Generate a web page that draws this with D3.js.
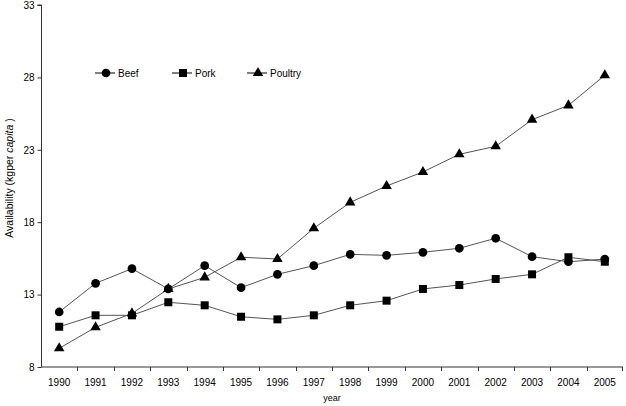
<!DOCTYPE html>
<html>
<head>
<meta charset="utf-8">
<script src="https://cdn.jsdelivr.net/npm/d3@7"></script>
<style>
    html, body { margin: 0; padding: 0; background: #fff; }
    svg { display: block; font-family: "Liberation Sans", Arial, sans-serif; }
</style>
</head>
<body>
<div id="chart"></div>
<script>
const years = [1990, 1991, 1992, 1993, 1994, 1995, 1996, 1997, 1998, 1999, 2000, 2001, 2002, 2003, 2004, 2005];
const beef = [11.8, 13.78, 14.79, 13.39, 15.0, 13.48, 14.4, 15.0, 15.78, 15.71, 15.92, 16.2, 16.89, 15.62, 15.27, 15.45];
const pork = [10.78, 11.57, 11.57, 12.47, 12.26, 11.47, 11.29, 11.57, 12.26, 12.58, 13.39, 13.66, 14.08, 14.4, 15.58, 15.27];
const poultry = [9.29, 10.74, 11.7, 13.39, 14.19, 15.58, 15.46, 17.58, 19.37, 20.5, 21.47, 22.69, 23.24, 25.08, 26.07, 28.15];
const yTicks = [8, 13, 18, 23, 28, 33];

const seriesList = [
    { name: "Beef", values: beef, symbol: d3.symbolCircle, size: 60 },
    { name: "Pork", values: pork, symbol: d3.symbolSquare, size: 64 },
    { name: "Poultry", values: poultry, symbol: d3.symbolTriangle, size: 48 },
];

const width = 626;
const height = 406;
const margin = { top: 5, right: 3, bottom: 39, left: 41 };

const svg = d3.select("#chart")
    .append("svg")
    .attr("width", width)
    .attr("height", height);

const x = d3.scaleBand()
    .domain(years)
    .range([margin.left, width - margin.right]);

const y = d3.scaleLinear()
    .domain([8, 33])
    .range([height - margin.bottom, margin.top]);

const axisColor = "#333";

// x axis with ticks between categories
const xAxis = svg.append("g")
    .attr("transform", `translate(0,${height - margin.bottom})`);

xAxis.append("line")
    .attr("x1", margin.left).attr("x2", width - margin.right)
    .attr("stroke", axisColor);

xAxis.selectAll("line.tick")
    .data(years.slice(1))
    .join("line")
    .attr("class", "tick")
    .attr("x1", (d) => Math.round(x(d)) + 0.5)
    .attr("x2", (d) => Math.round(x(d)) + 0.5)
    .attr("y1", 0).attr("y2", 4)
    .attr("stroke", axisColor);

xAxis.append("line")
    .attr("x1", width - margin.right - 0.5).attr("x2", width - margin.right - 0.5)
    .attr("y1", 0).attr("y2", 4)
    .attr("stroke", axisColor);

xAxis.selectAll("text")
    .data(years)
    .join("text")
    .attr("x", (d) => x(d) + x.bandwidth() / 2)
    .attr("y", 19)
    .attr("text-anchor", "middle")
    .attr("font-size", 10)
    .attr("fill", "#000")
    .text((d) => d);

// y axis
const yAxis = svg.append("g")
    .attr("transform", `translate(${margin.left + 0.5},0)`)
    .call(d3.axisLeft(y).tickValues(yTicks).tickSize(4).tickPadding(3))
    .call((g) => g.selectAll(".domain, line").attr("stroke", axisColor))
    .call((g) => g.selectAll("text")
        .attr("font-size", 10)
        .attr("fill", "#000")
        .attr("font-family", "Liberation Sans, Arial, sans-serif"));
yAxis.select(".domain").attr("d", `M-4,${y(33)}H0V${y(8)}`);

// axis titles
const yTitle = svg.append("text")
    .attr("transform", `translate(13,${(margin.top + height - margin.bottom) / 2 - 8}) rotate(-90)`)
    .attr("text-anchor", "middle")
    .attr("font-size", 10.5)
    .attr("fill", "#000");
yTitle.append("tspan").text("Availability (kgper ");
yTitle.append("tspan").attr("font-style", "italic").text("capita");
yTitle.append("tspan").text(" )");

svg.append("text")
    .attr("x", (margin.left + width - margin.right) / 2)
    .attr("y", 401)
    .attr("text-anchor", "middle")
    .attr("font-size", 9)
    .attr("fill", "#000")
    .text("year");

// series lines and markers
const line = d3.line()
    .x((d, i) => x(years[i]) + x.bandwidth() / 2)
    .y((d) => y(d));

seriesList.forEach((s) => {
    svg.append("path")
        .datum(s.values)
        .attr("fill", "none")
        .attr("stroke", "#555")
        .attr("stroke-width", 1)
        .attr("d", line);

    svg.append("g")
        .selectAll("path")
        .data(s.values)
        .join("path")
        .attr("transform", (d, i) => `translate(${x(years[i]) + x.bandwidth() / 2},${y(d)})`)
        .attr("d", d3.symbol(s.symbol, s.size))
        .attr("fill", "#000");
});

// legend
const legendX = [95, 172, 247];
const legendY = 73;
const legend = svg.append("g")
    .selectAll("g")
    .data(seriesList)
    .join("g")
    .attr("transform", (d, i) => `translate(${legendX[i]},${legendY})`);

legend.append("line")
    .attr("x1", 0).attr("x2", 20)
    .attr("stroke", "#000");

legend.append("path")
    .attr("transform", "translate(11,0)")
    .attr("d", (d) => d3.symbol(d.symbol, d.size)())
    .attr("fill", "#000");

legend.append("text")
    .attr("x", 23)
    .attr("y", 3.5)
    .attr("font-size", 10)
    .attr("fill", "#000")
    .text((d) => d.name);
</script>
</body>
</html>
